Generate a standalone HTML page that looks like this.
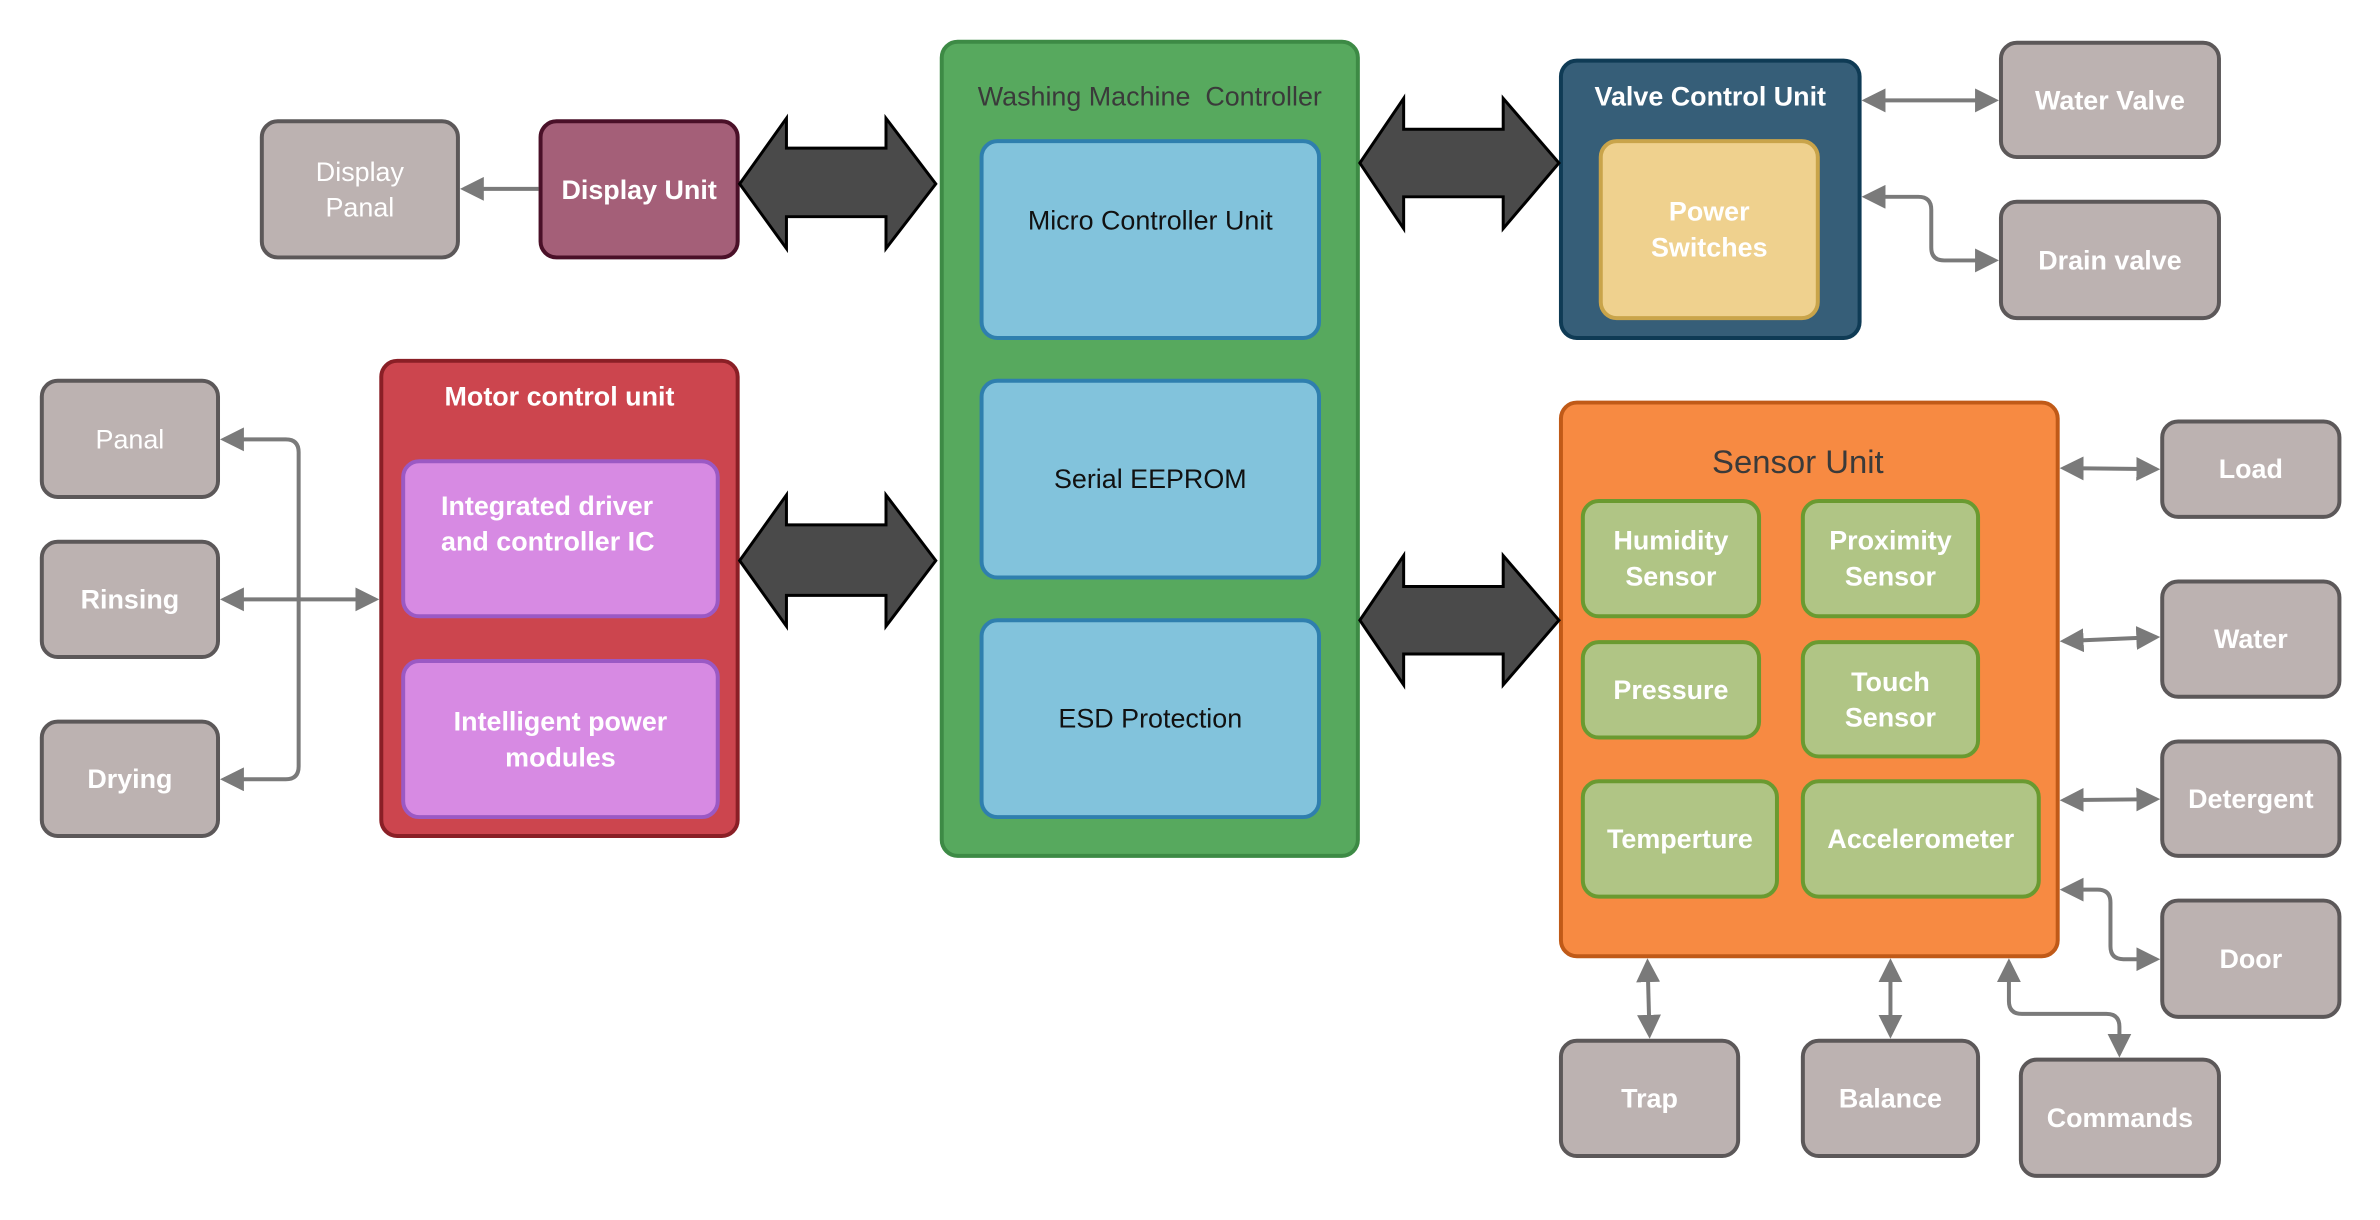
<!DOCTYPE html>
<html><head><meta charset="utf-8"><style>
body{margin:0;width:2380px;height:1220px;background:#fff;position:relative;overflow:hidden;font-family:"Liberation Sans",sans-serif}
#w{position:absolute;left:0;top:0;width:2380px;height:1220px;transform:scale(0.9955,0.994);transform-origin:0 0}
.b{position:absolute;box-sizing:border-box;border-radius:18px;display:flex;align-items:center;justify-content:center;text-align:center;font-size:27px;line-height:36px;color:#fff;font-weight:bold;border:4px solid #5c5859}
.g{background:#bcb2b1}
.t{position:absolute;text-align:center;font-size:27px;font-weight:bold;color:#fff}
svg{position:absolute;left:0;top:0}
</style></head><body><div id="w">
<div class="b" style="left:944px;top:40px;width:422px;height:823px;background:#57a95e;border-color:#3d8a45"></div>
<div class="t" style="left:944px;top:82px;width:422px;color:#3a3a3a;font-weight:normal">Washing Machine&nbsp; Controller</div>
<div class="b" style="left:984px;top:140px;width:343px;height:202px;background:#82c3dc;border-color:#2f7fae;color:#111;font-weight:normal;align-items:flex-start;padding-top:60px">Micro Controller Unit</div>
<div class="b" style="left:984px;top:381px;width:343px;height:202px;background:#82c3dc;border-color:#2f7fae;color:#111;font-weight:normal">Serial EEPROM</div>
<div class="b" style="left:984px;top:622px;width:343px;height:202px;background:#82c3dc;border-color:#2f7fae;color:#111;font-weight:normal">ESD Protection</div>

<div class="b g" style="left:261px;top:120px;width:201px;height:141px;font-weight:normal">Display<br>Panal</div>
<div class="b" style="left:541px;top:120px;width:202px;height:141px;background:#a45f78;border-color:#4a1028">Display Unit</div>

<div class="b" style="left:381px;top:361px;width:362px;height:482px;background:#cc454e;border-color:#8a1f26"></div>
<div class="t" style="left:381px;top:384px;width:362px">Motor control unit</div>
<div class="b" style="left:403px;top:462px;width:320px;height:160px;background:#d78ae3;border-color:#9b59c4;justify-content:flex-start;text-align:left;padding-left:36px;padding-bottom:30px">Integrated driver<br>and controller IC</div>
<div class="b" style="left:403px;top:663px;width:320px;height:161px;background:#d78ae3;border-color:#9b59c4">Intelligent power<br>modules</div>

<div class="b g" style="left:40px;top:381px;width:181px;height:121px;font-weight:normal">Panal</div>
<div class="b g" style="left:40px;top:543px;width:181px;height:120px">Rinsing</div>
<div class="b g" style="left:40px;top:724px;width:181px;height:119px">Drying</div>

<div class="b" style="left:1566px;top:59px;width:304px;height:283px;background:#365e78;border-color:#0f3b55"></div>
<div class="t" style="left:1566px;top:82px;width:304px">Valve Control Unit</div>
<div class="b" style="left:1606px;top:140px;width:222px;height:182px;background:#efd18e;border-color:#c9a44a">Power<br>Switches</div>
<div class="b g" style="left:2008px;top:41px;width:223px;height:119px">Water Valve</div>
<div class="b g" style="left:2008px;top:201px;width:223px;height:121px">Drain valve</div>

<div class="b" style="left:1566px;top:403px;width:503px;height:561px;background:#f78a42;border-color:#c05a18"></div>
<div class="t" style="left:1566px;top:446px;width:480px;color:#3a3a3a;font-weight:normal;font-size:33px">Sensor Unit</div>
<div class="b" style="left:1588px;top:502px;width:181px;height:120px;background:#b0c585;border-color:#6a9a30">Humidity<br>Sensor</div>
<div class="b" style="left:1809px;top:502px;width:180px;height:120px;background:#b0c585;border-color:#6a9a30">Proximity<br>Sensor</div>
<div class="b" style="left:1588px;top:644px;width:181px;height:100px;background:#b0c585;border-color:#6a9a30">Pressure</div>
<div class="b" style="left:1809px;top:644px;width:180px;height:119px;background:#b0c585;border-color:#6a9a30">Touch<br>Sensor</div>
<div class="b" style="left:1588px;top:784px;width:199px;height:120px;background:#b0c585;border-color:#6a9a30">Temperture</div>
<div class="b" style="left:1809px;top:784px;width:241px;height:120px;background:#b0c585;border-color:#6a9a30">Accelerometer</div>

<div class="b g" style="left:2170px;top:422px;width:182px;height:100px">Load</div>
<div class="b g" style="left:2170px;top:583px;width:182px;height:120px">Water</div>
<div class="b g" style="left:2170px;top:744px;width:182px;height:119px">Detergent</div>
<div class="b g" style="left:2170px;top:904px;width:182px;height:121px">Door</div>
<div class="b g" style="left:1566px;top:1045px;width:182px;height:120px">Trap</div>
<div class="b g" style="left:1809px;top:1045px;width:180px;height:120px">Balance</div>
<div class="b g" style="left:2028px;top:1064px;width:203px;height:121px">Commands</div>

<svg width="2380" height="1220" viewBox="0 0 2380 1220">
<defs><marker id="a" markerWidth="6" markerHeight="6" refX="5" refY="3" orient="auto-start-reverse" markerUnits="strokeWidth"><path d="M0,0 L6,3 L0,6 Z" fill="#7a7a7a"/></marker></defs>
<g fill="#4a4a4a" stroke="#000" stroke-width="3" stroke-linejoin="miter">
<path d="M743,185 L790,119 L790,149 L890,149 L890,119 L940,185 L890,250 L890,218 L790,218 L790,250 Z"/>
<path d="M743,564 L790,498 L790,528 L890,528 L890,498 L940,564 L890,630 L890,599 L790,599 L790,630 Z"/>
<path d="M1366,164 L1410,99 L1410,130 L1510,130 L1510,99 L1566,164 L1510,230 L1510,198 L1410,198 L1410,230 Z"/>
<path d="M1366,624 L1410,559 L1410,590 L1510,590 L1510,559 L1566,624 L1510,689 L1510,658 L1410,658 L1410,689 Z"/>
</g>
<g fill="none" stroke="#7a7a7a" stroke-width="4">
<path d="M541,190 L466,190" marker-end="url(#a)"/>
<path d="M300,603 L225,603" marker-end="url(#a)"/>
<path d="M300,603 L377,603" marker-end="url(#a)"/>
<path d="M300,603 L300,455 Q300,442 287,442 L225,442" marker-end="url(#a)"/>
<path d="M300,603 L300,771 Q300,784 287,784 L225,784" marker-end="url(#a)"/>
<path d="M1874,101 L2004,101" marker-start="url(#a)" marker-end="url(#a)"/>
<path d="M1874,198 L1927,198 Q1940,198 1940,211 L1940,249 Q1940,262 1953,262 L2004,262" marker-start="url(#a)" marker-end="url(#a)"/>
<path d="M2073,471 L2166,472" marker-start="url(#a)" marker-end="url(#a)"/>
<path d="M2073,645 L2166,641" marker-start="url(#a)" marker-end="url(#a)"/>
<path d="M2073,805 L2166,804" marker-start="url(#a)" marker-end="url(#a)"/>
<path d="M2073,895 L2107,895 Q2120,895 2120,908 L2120,952 Q2120,965 2133,965 L2166,965" marker-start="url(#a)" marker-end="url(#a)"/>
<path d="M1655,968 L1657,1041" marker-start="url(#a)" marker-end="url(#a)"/>
<path d="M1899,968 L1899,1041" marker-start="url(#a)" marker-end="url(#a)"/>
<path d="M2018,968 L2018,1007 Q2018,1020 2031,1020 L2116,1020 Q2129,1020 2129,1033 L2129,1060" marker-start="url(#a)" marker-end="url(#a)"/>
</g>
</svg>
</div></body></html>
